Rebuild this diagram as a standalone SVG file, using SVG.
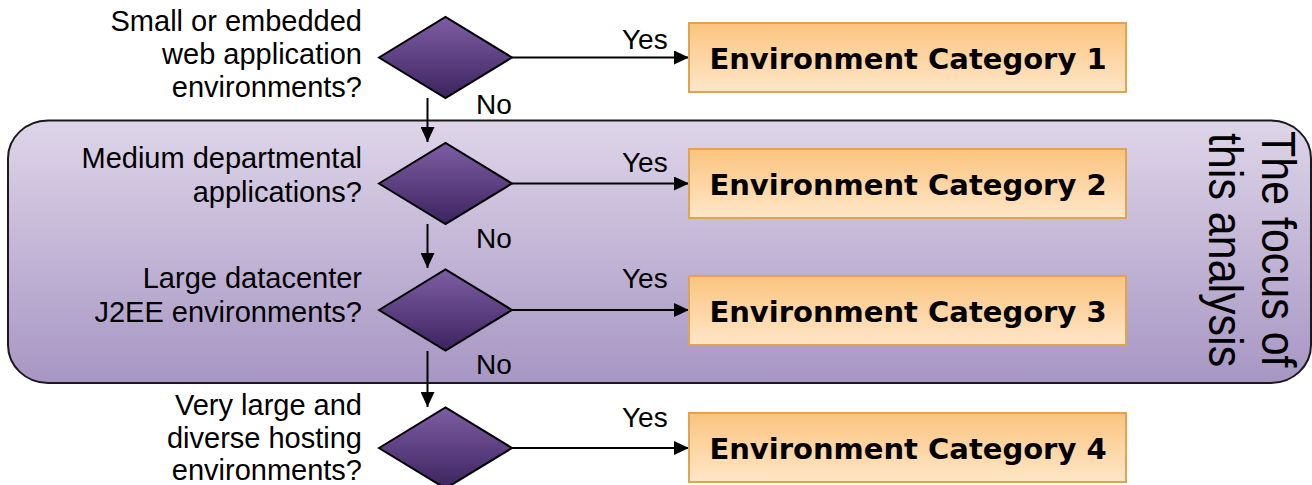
<svg xmlns="http://www.w3.org/2000/svg" width="1312" height="485" viewBox="0 0 1312 485">
<style>
.lbl{font-family:"Liberation Sans",Arial,sans-serif;font-size:29px;fill:#000;text-anchor:end}
.yn{font-family:"Liberation Sans",Arial,sans-serif;font-size:28px;fill:#000}
.cat{font-family:"DejaVu Sans",Verdana,sans-serif;font-weight:bold;font-size:29px;fill:#000;text-anchor:middle}
.focus{font-family:"Liberation Sans",Arial,sans-serif;font-size:43px;fill:#000}
.dia{fill:url(#gDia);stroke:#000;stroke-width:2}
.box{fill:url(#gBox);stroke:#e0a44e;stroke-width:2}
.con{stroke:#000;stroke-width:2;fill:none;marker-end:url(#ah)}
</style>
<defs>
<linearGradient id="gBand" x1="0" y1="0" x2="0" y2="1">
<stop offset="0" stop-color="#ded5e9"/>
<stop offset="1" stop-color="#a796c3"/>
</linearGradient>
<linearGradient id="gDia" x1="0" y1="0" x2="0" y2="1">
<stop offset="0" stop-color="#7d5ea3"/>
<stop offset="1" stop-color="#3d2360"/>
</linearGradient>
<linearGradient id="gBox" x1="0" y1="0" x2="0" y2="1">
<stop offset="0" stop-color="#fbc47e"/>
<stop offset="1" stop-color="#ffe6c8"/>
</linearGradient>
<marker id="ah" markerWidth="16" markerHeight="14" refX="15" refY="7" orient="auto" markerUnits="userSpaceOnUse">
<path d="M0,0 L15,7 L0,14 Z" fill="#000"/>
</marker>
</defs>
<g id="focus-band">
<rect x="8" y="120.5" width="1303" height="262.5" rx="40" ry="38" fill="url(#gBand)" stroke="#1a1a1a" stroke-width="2"/>
<text class="focus" transform="translate(1262 131) rotate(90) scale(1 1.1)" x="0" y="0">The focus of</text>
<text class="focus" transform="translate(1209 133) rotate(90) scale(1 1.1)" x="0" y="0">this analysis</text>
</g>
<g id="connectors">
<line class="con" x1="427.5" y1="98" x2="427.5" y2="142"/>
<line class="con" x1="427.5" y1="224" x2="427.5" y2="268"/>
<line class="con" x1="427.5" y1="351" x2="427.5" y2="407"/>
<line class="con" x1="512" y1="57.5" x2="689" y2="57.5"/>
<line class="con" x1="512" y1="183.5" x2="689" y2="183.5"/>
<line class="con" x1="512" y1="310" x2="689" y2="310"/>
<line class="con" x1="512" y1="448" x2="689" y2="448"/>
<text class="yn" x="622" y="49">Yes</text>
<text class="yn" x="622" y="172">Yes</text>
<text class="yn" x="622" y="288">Yes</text>
<text class="yn" x="622" y="427">Yes</text>
<text class="yn" x="476" y="114">No</text>
<text class="yn" x="476" y="248">No</text>
<text class="yn" x="476" y="374">No</text>
</g>
<g id="decision1">
<polygon class="dia" points="379,57.5 445.5,17 512,57.5 445.5,98"/>
<text class="lbl" x="362" y="31">Small or embedded</text>
<text class="lbl" x="362" y="64">web application</text>
<text class="lbl" x="362" y="97">environments?</text>
</g>
<g id="decision2">
<polygon class="dia" points="379,183.5 445.5,143 512,183.5 445.5,224"/>
<text class="lbl" x="362" y="168">Medium departmental</text>
<text class="lbl" x="362" y="201.5">applications?</text>
</g>
<g id="decision3">
<polygon class="dia" points="379,310 445.5,269.5 512,310 445.5,350.5"/>
<text class="lbl" x="362" y="288">Large datacenter</text>
<text class="lbl" x="362" y="321.5">J2EE environments?</text>
</g>
<g id="decision4">
<polygon class="dia" points="379,448 445.5,407.5 512,448 445.5,488.5"/>
<text class="lbl" x="362" y="415">Very large and</text>
<text class="lbl" x="362" y="447.5">diverse hosting</text>
<text class="lbl" x="362" y="480">environments?</text>
</g>
<g id="category1">
<rect class="box" x="689" y="23" width="437" height="69"/>
<text class="cat" x="908" y="69">Environment Category 1</text>
</g>
<g id="category2">
<rect class="box" x="689" y="149" width="437" height="69"/>
<text class="cat" x="908" y="195">Environment Category 2</text>
</g>
<g id="category3">
<rect class="box" x="689" y="276" width="437" height="69"/>
<text class="cat" x="908" y="322">Environment Category 3</text>
</g>
<g id="category4">
<rect class="box" x="689" y="413" width="437" height="69"/>
<text class="cat" x="908" y="459">Environment Category 4</text>
</g>
</svg>
